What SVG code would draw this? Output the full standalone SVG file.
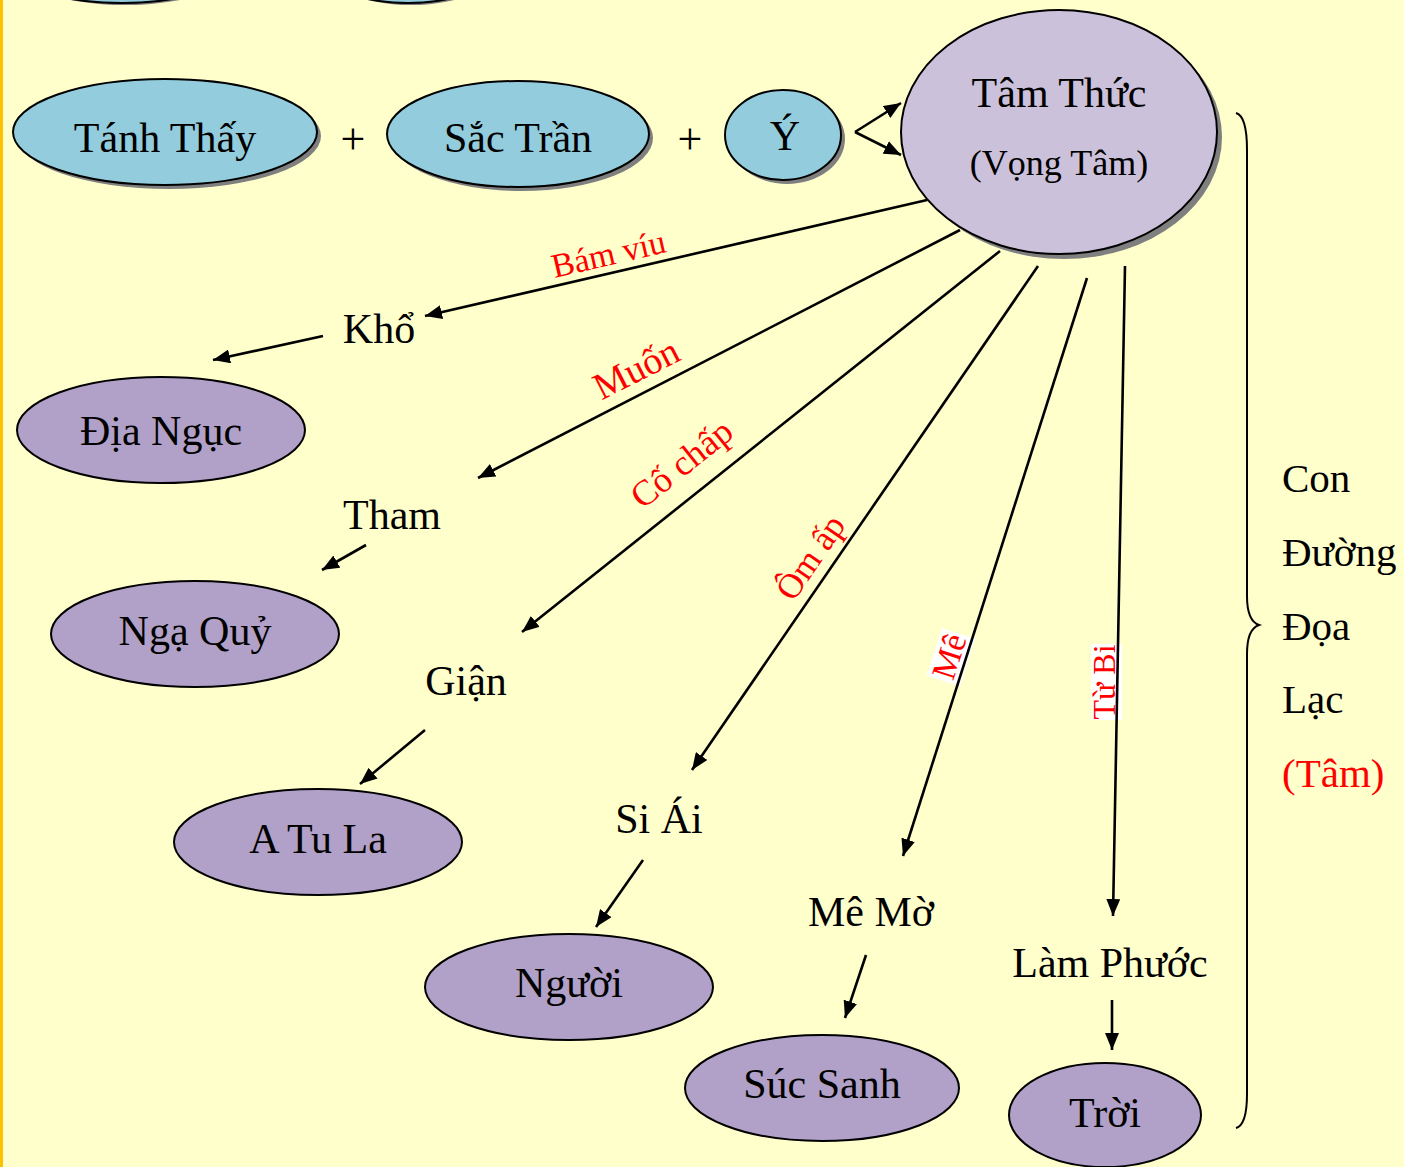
<svg xmlns="http://www.w3.org/2000/svg" width="1404" height="1167" viewBox="0 0 1404 1167">
<defs>
<marker id="ah" markerUnits="userSpaceOnUse" markerWidth="18" markerHeight="14" refX="17" refY="7" orient="auto">
<path d="M0,0 L17,7 L0,14 z" fill="#000"/>
</marker>
<style>
.bg{fill:#FFFFCC}
.sh{fill:#7f7f7f}
.blue{fill:#93CDDD;stroke:#000;stroke-width:2}
.core{fill:#CCC1DA;stroke:#000;stroke-width:2}
.purple{fill:#B1A0C7;stroke:#000;stroke-width:2}
.t{font-family:"Liberation Serif","Times New Roman",serif;font-size:42px;fill:#000;text-anchor:middle}
.r{font-family:"Liberation Serif","Times New Roman",serif;font-size:34px;fill:#FF0000;text-anchor:middle}
.side{font-family:"Liberation Serif","Times New Roman",serif;font-size:41px;fill:#000}
.ln{stroke:#000;stroke-width:2.6;fill:none;marker-end:url(#ah)}
.plus{font-family:"Liberation Serif","Times New Roman",serif;font-size:44px;fill:#000;text-anchor:middle}
</style>
</defs>
<rect class="bg" x="0" y="0" width="1404" height="1167"/>
<rect x="0" y="0" width="3" height="1167" fill="#FFC000"/>

<g id="top-partial-1">
<ellipse class="sh" cx="125" cy="-40" rx="120" ry="45"/>
<ellipse class="blue" cx="122" cy="-42" rx="120" ry="45"/>
</g>
<g id="top-partial-2">
<ellipse class="sh" cx="411" cy="-40" rx="95" ry="45"/>
<ellipse class="blue" cx="408" cy="-42" rx="95" ry="45"/>
</g>

<g id="tanh-thay">
<ellipse class="sh" cx="169" cy="136" rx="152" ry="53"/>
<ellipse class="blue" cx="165" cy="132" rx="152" ry="53"/>
<text class="t" x="165" y="152">Tánh Thấy</text>
</g>
<text class="plus" x="353" y="154">+</text>
<g id="sac-tran">
<ellipse class="sh" cx="522" cy="138" rx="131" ry="53"/>
<ellipse class="blue" cx="518" cy="134" rx="131" ry="53"/>
<text class="t" x="518" y="152">Sắc Trần</text>
</g>
<text class="plus" x="690" y="154">+</text>
<g id="y">
<ellipse class="sh" cx="787" cy="139" rx="58" ry="45"/>
<ellipse class="blue" cx="783" cy="135" rx="58" ry="45"/>
<text class="t" x="785" y="150">Ý</text>
</g>
<g id="tam-thuc">
<ellipse class="sh" cx="1064" cy="137" rx="158" ry="122"/>
<ellipse class="core" cx="1059" cy="132" rx="158" ry="122"/>
<text class="t" x="1059" y="107">Tâm Thức</text>
<text class="t" x="1059" y="175" style="font-size:36px">(Vọng Tâm)</text>
</g>

<g id="dia-nguc">
<ellipse class="purple" cx="161" cy="430" rx="144" ry="53"/>
<text class="t" x="161" y="445">Địa Ngục</text>
</g>
<g id="nga-quy">
<ellipse class="purple" cx="195" cy="634" rx="144" ry="53"/>
<text class="t" x="195" y="645">Ngạ Quỷ</text>
</g>
<g id="a-tu-la">
<ellipse class="purple" cx="318" cy="842" rx="144" ry="53"/>
<text class="t" x="318" y="853">A Tu La</text>
</g>
<g id="nguoi">
<ellipse class="purple" cx="569" cy="987" rx="144" ry="53"/>
<text class="t" x="569" y="997">Người</text>
</g>
<g id="suc-sanh">
<ellipse class="purple" cx="822" cy="1088" rx="137" ry="53"/>
<text class="t" x="822" y="1098">Súc Sanh</text>
</g>
<g id="troi">
<ellipse class="purple" cx="1105" cy="1115" rx="96" ry="52"/>
<text class="t" x="1105" y="1127">Trời</text>
</g>

<g id="kho"><text class="t" x="379" y="343">Khổ</text></g>
<g id="tham"><text class="t" x="392" y="529">Tham</text></g>
<g id="gian"><text class="t" x="466" y="695">Giận</text></g>
<g id="si-ai"><text class="t" x="659" y="833">Si Ái</text></g>
<g id="me-mo"><text class="t" x="871" y="926">Mê Mờ</text></g>
<g id="lam-phuoc"><text class="t" x="1110" y="977">Làm Phước</text></g>

<g id="edge-labels">
<text class="r" transform="translate(611,265) rotate(-13)" x="0" y="0">Bám víu</text>
<text class="r" transform="translate(642,380) rotate(-27)" x="0" y="0" style="font-size:38px">Muốn</text>
<text class="r" transform="translate(689,473) rotate(-38.6)" x="0" y="0" style="font-size:36px">Cố chấp</text>
<text class="r" transform="translate(820,564) rotate(-55.5)" x="0" y="0" style="font-size:35px">Ôm ấp</text>
<g transform="translate(960,660) rotate(-72)">
<rect x="-25" y="-27" width="50" height="35" fill="#fff"/>
<text class="r" x="0" y="0" style="font-size:34px">Mê</text>
</g>
<g transform="translate(1115,682) rotate(-90)">
<rect x="-38" y="-24" width="76" height="31" fill="#fff"/>
<text class="r" x="0" y="0" style="font-size:32px">Từ Bi</text>
</g>
</g>

<g id="connectors">
<line class="ln" x1="855" y1="132" x2="901" y2="103"/>
<line class="ln" x1="855" y1="132" x2="901" y2="155"/>
<line class="ln" x1="927" y1="200" x2="425" y2="316"/>
<line class="ln" x1="960" y1="230" x2="478" y2="478"/>
<line class="ln" x1="1000" y1="251" x2="522" y2="632"/>
<line class="ln" x1="1038" y1="266" x2="692" y2="770"/>
<line class="ln" x1="1087" y1="278" x2="903" y2="856"/>
<line class="ln" x1="1125" y1="266" x2="1113" y2="916"/>
<line class="ln" x1="323" y1="336" x2="213" y2="360"/>
<line class="ln" x1="366" y1="545" x2="322" y2="570"/>
<line class="ln" x1="425" y1="730" x2="360" y2="784"/>
<line class="ln" x1="643" y1="860" x2="596" y2="927"/>
<line class="ln" x1="866" y1="955" x2="845" y2="1018"/>
<line class="ln" x1="1112" y1="1000" x2="1112" y2="1050"/>
</g>

<g id="brace">
<path d="M1236,113 Q1247,116 1247,150 L1247,596 Q1247,621 1259,625 Q1247,629 1247,654 L1247,1094 Q1247,1125 1236,1128" fill="none" stroke="#000" stroke-width="2"/>
</g>
<g id="side-label">
<text class="side" x="1282" y="492">Con</text>
<text class="side" x="1282" y="566">Đường</text>
<text class="side" x="1282" y="640">Đọa</text>
<text class="side" x="1282" y="713">Lạc</text>
<text class="side" x="1282" y="787" style="fill:#FF0000">(Tâm)</text>
</g>
</svg>
